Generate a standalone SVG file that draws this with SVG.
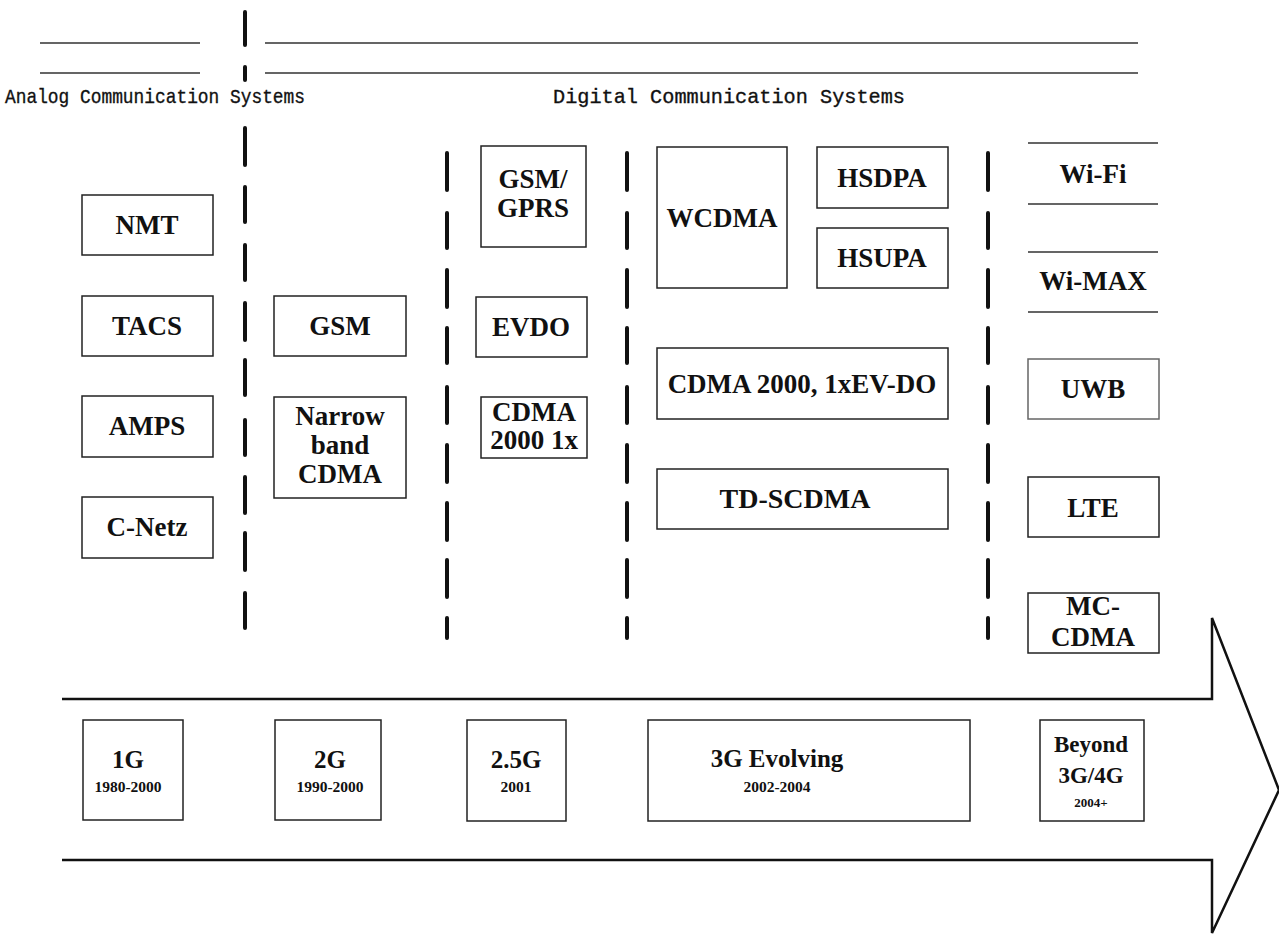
<svg xmlns="http://www.w3.org/2000/svg" width="1279" height="936" viewBox="0 0 1279 936">
<style>
.box{fill:#fff;stroke:#222;stroke-width:1.5}
.lbl{font-family:"Liberation Serif","Times New Roman",serif;font-weight:bold;font-size:27px;fill:#111;text-anchor:middle}
.big{font-size:25px}
.yr{font-size:15.5px}
.hdr{font-family:"Liberation Mono","Courier New",monospace;font-size:21px;fill:#111;stroke:#111;stroke-width:0.35}
.rule{stroke:#333;stroke-width:1.5;fill:none}
.dash{stroke:#111;stroke-width:4;stroke-linecap:round;fill:none}
.arrow{fill:#fff;stroke:#111;stroke-width:2.5}
</style>
<rect width="1279" height="936" fill="#fff"/>
<g id="connectors">
<path class="rule" d="M40 43H200M265 43H1138M40 73H200M265 73H1138"/>
<path class="dash" d="M245 12V45M245 67V80M245 128V165M245 187V222M245 245V280M245 303V340M245 360V395M245 420V455M245 477V513M245 533V570M245 593V628"/>
<path class="dash" d="M447 153V190M447 213V248M447 270V307M447 328V363M447 387V423M447 445V482M447 503V540M447 560V597M447 618V638"/>
<path class="dash" d="M627 153V190M627 213V248M627 270V307M627 328V363M627 387V423M627 445V482M627 503V540M627 560V597M627 618V638"/>
<path class="dash" d="M988 153V190M988 213V248M988 270V307M988 328V363M988 387V423M988 445V482M988 503V540M988 560V597M988 618V638"/>
<path id="timeline-arrow" class="arrow" d="M62 699H1212V618L1279 790L1212 933V860H62"/>
</g>
<g id="header-analog"><text class="hdr" x="5" y="103" textLength="300" lengthAdjust="spacingAndGlyphs">Analog Communication Systems</text></g>
<g id="header-digital"><text class="hdr" x="553" y="103" textLength="352" lengthAdjust="spacingAndGlyphs">Digital Communication Systems</text></g>

<g id="nmt"><rect class="box" x="82" y="195" width="131" height="60"/><text class="lbl" x="147" y="234">NMT</text></g>
<g id="tacs"><rect class="box" x="82" y="296" width="131" height="60"/><text class="lbl" x="147" y="335">TACS</text></g>
<g id="amps"><rect class="box" x="82" y="396" width="131" height="61"/><text class="lbl" x="147" y="435">AMPS</text></g>
<g id="cnetz"><rect class="box" x="82" y="497" width="131" height="61"/><text class="lbl" x="147" y="536">C-Netz</text></g>

<g id="gsm"><rect class="box" x="274" y="296" width="132" height="60"/><text class="lbl" x="340" y="335">GSM</text></g>
<g id="nbcdma"><rect class="box" x="274" y="397" width="132" height="101"/><text class="lbl" x="340" y="425">Narrow</text><text class="lbl" x="340" y="454">band</text><text class="lbl" x="340" y="483">CDMA</text></g>

<g id="gsmgprs"><rect class="box" x="481" y="146" width="105" height="101"/><text class="lbl" x="533" y="188">GSM/</text><text class="lbl" x="533" y="217">GPRS</text></g>
<g id="evdo"><rect class="box" x="476" y="297" width="111" height="60"/><text class="lbl" x="531" y="336">EVDO</text></g>
<g id="cdma1x"><rect class="box" x="481" y="397" width="106" height="61"/><text class="lbl" x="534" y="421">CDMA</text><text class="lbl" x="534" y="449">2000 1x</text></g>

<g id="wcdma"><rect class="box" x="657" y="147" width="130" height="141"/><text class="lbl" x="722" y="227">WCDMA</text></g>
<g id="hsdpa"><rect class="box" x="817" y="147" width="131" height="61"/><text class="lbl" x="882" y="187">HSDPA</text></g>
<g id="hsupa"><rect class="box" x="817" y="228" width="131" height="60"/><text class="lbl" x="882" y="267">HSUPA</text></g>
<g id="cdma2000evdo"><rect class="box" x="657" y="348" width="291" height="71"/><text class="lbl" x="802" y="393">CDMA 2000, 1xEV-DO</text></g>
<g id="tdscdma"><rect class="box" x="657" y="469" width="291" height="60"/><text class="lbl" style="font-size:28px" x="795" y="508">TD-SCDMA</text></g>

<g id="wifi"><path class="rule" d="M1028 143H1158M1028 204H1158"/><text class="lbl" x="1093" y="183">Wi-Fi</text></g>
<g id="wimax"><path class="rule" d="M1028 252H1158M1028 312H1158"/><text class="lbl" x="1093" y="290">Wi-MAX</text></g>
<g id="uwb"><rect class="box" x="1028" y="359" width="131" height="60" style="stroke:#666"/><text class="lbl" x="1093" y="398">UWB</text></g>
<g id="lte"><rect class="box" x="1028" y="477" width="131" height="60"/><text class="lbl" x="1093" y="517">LTE</text></g>
<g id="mccdma"><rect class="box" x="1028" y="593" width="131" height="60"/><text class="lbl" x="1093" y="615">MC-</text><text class="lbl" x="1093" y="646">CDMA</text></g>

<g id="g1"><rect class="box" x="83" y="720" width="100" height="100"/><text class="lbl big" x="128" y="768">1G</text><text class="lbl yr" x="128" y="792">1980-2000</text></g>
<g id="g2"><rect class="box" x="275" y="720" width="106" height="100"/><text class="lbl big" x="330" y="768">2G</text><text class="lbl yr" x="330" y="792">1990-2000</text></g>
<g id="g25"><rect class="box" x="467" y="720" width="99" height="101"/><text class="lbl big" x="516" y="768">2.5G</text><text class="lbl yr" x="516" y="792">2001</text></g>
<g id="g3"><rect class="box" x="648" y="720" width="322" height="101"/><text class="lbl big" x="777" y="767">3G Evolving</text><text class="lbl yr" x="777" y="792">2002-2004</text></g>
<g id="g4"><rect class="box" x="1040" y="720" width="104" height="101"/><text class="lbl" style="font-size:23px" x="1091" y="752">Beyond</text><text class="lbl" style="font-size:23px" x="1091" y="783">3G/4G</text><text class="lbl" style="font-size:13px" x="1091" y="807">2004+</text></g>
</svg>
